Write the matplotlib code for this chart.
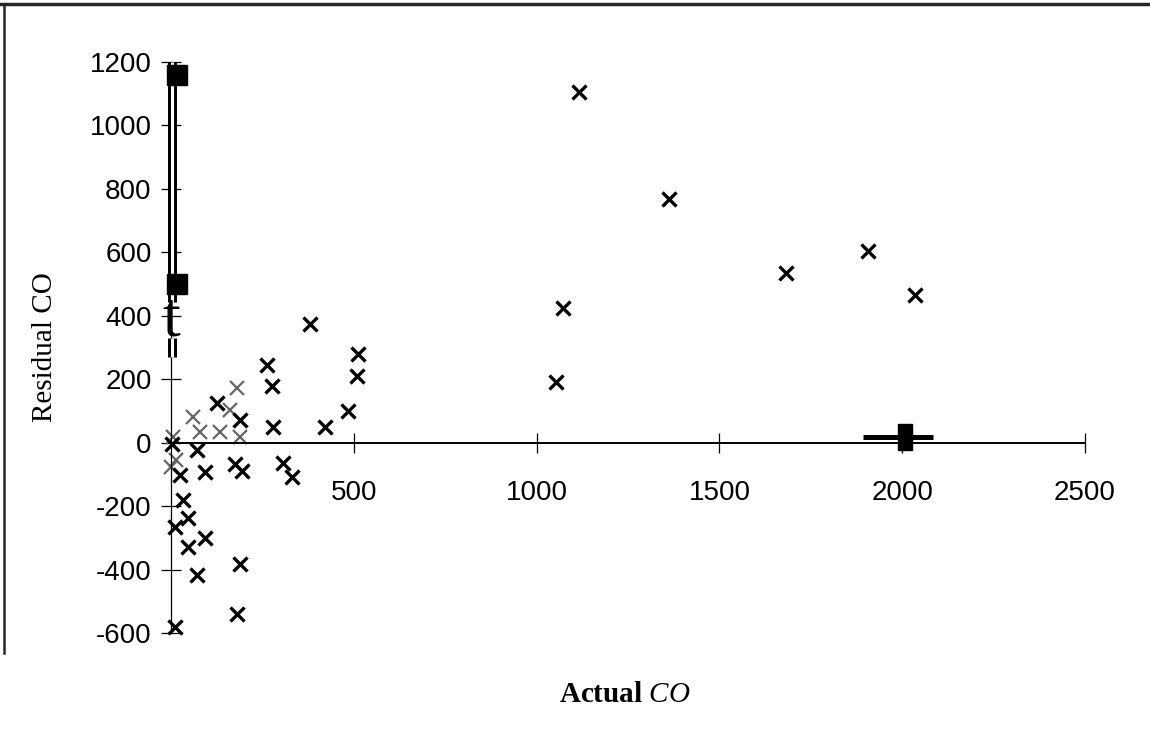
import matplotlib
matplotlib.use("Agg")
import matplotlib.pyplot as plt
from matplotlib.lines import Line2D
from matplotlib.patches import Rectangle

plt.rcParams['font.family'] = ['Liberation Sans', 'DejaVu Sans']
plt.rcParams['axes.unicode_minus'] = False
plt.rcParams['mathtext.fontset'] = 'custom'
plt.rcParams['mathtext.rm'] = 'Liberation Serif'
plt.rcParams['mathtext.it'] = 'Liberation Serif:italic'

# residuals of the CO model against the measured value
actual = [1117, 1362, 1907, 1682, 2035, 1073, 1052,
          380, 511, 510, 485, 421,
          262, 275, 280, 125, 189, 2, 70,
          175, 193, 307, 330, 25, 93,
          34, 47, 11, 93, 47, 71, 189, 181, 11]
residual = [1106, 767, 605, 535, 465, 423, 192,
            374, 281, 210, 100, 50,
            244, 178, 50, 125, 71, -3, -24,
            -66, -89, -64, -108, -102, -92,
            -181, -239, -267, -302, -328, -418, -381, -541, -581]

# weaker points in the crowded corner
faint_actual = [180, 161, 61, 79, 134, 189, 6, 15, 0]
faint_residual = [171, 102, 81, 34, 34, 18, 18, -55, -76]

# vertical range at the low end (broken where the label sits)
range_x = 4
range_segments = [(1200, 442), (329, 270)]
range_ends_x = [16, 16]
range_ends_y = [1159, 500]

# horizontal range near 2000
hbar_x = [1893, 2084]
hbar_y = [17, 17]
hbar_mid = (2008, 17)

fig = plt.figure(figsize=(11.5, 7.34), dpi=100)
ax = fig.add_axes([0.1487, 0.1376, 0.7948, 0.7779])

ax.set_xlim(0, 2500)
ax.set_ylim(-600, 1200)

for side in ['top', 'right']:
    ax.spines[side].set_visible(False)
ax.spines['left'].set_position(('data', 0))
ax.spines['bottom'].set_position(('data', 0))
ax.spines['left'].set_linewidth(0.9)
ax.spines['bottom'].set_linewidth(1.4)

ax.set_xticks([500, 1000, 1500, 2000, 2500])
ax.set_yticks(range(-600, 1201, 200))
ax.tick_params(direction='inout', length=14, width=0.9, labelsize=20)
ax.tick_params(axis='x', pad=20)
ax.tick_params(axis='y', pad=7)

# double line with square ends
for y0, y1 in range_segments:
    ax.plot([range_x, range_x], [y0, y1], color='black', lw=6.5,
            solid_capstyle='butt', clip_on=False, zorder=3)
    ax.plot([range_x, range_x], [y0, y1], color='white', lw=2.2,
            solid_capstyle='butt', clip_on=False, zorder=3)
ax.plot(range_ends_x, range_ends_y, 's', color='black', ms=15,
        clip_on=False, zorder=4)
ax.text(2, 386, 't', family='Liberation Serif', fontsize=46,
        ha='center', va='center', zorder=6)

ax.plot(hbar_x, hbar_y, color='black', lw=3.6, solid_capstyle='butt', zorder=3)
ax.add_patch(Rectangle((hbar_mid[0] - 19, hbar_mid[1] - 41), 38, 82,
                       color='black', zorder=4))

ax.plot(faint_actual, faint_residual, 'x', color='0.4', ms=10, mew=1.6,
        clip_on=False, zorder=2)
ax.plot(actual, residual, 'x', color='black', ms=10, mew=2.4,
        clip_on=False, zorder=5)

ax.set_ylabel('Residual CO', family='Liberation Serif', fontsize=21,
              va='center')
ax.yaxis.set_label_coords(-0.138, 0.5)
ax.set_xlabel(r'Actual $CO$', family='Liberation Serif', fontsize=21,
              fontweight='bold', va='center')
ax.xaxis.set_label_coords(0.497, -0.107)

# frame lines along the top and left edges
fig.add_artist(Line2D([0.0, 1.0], [0.995, 0.995], color='0.15', lw=2.5))
fig.add_artist(Line2D([0.0035, 0.0035], [0.995, 1 - 653 / 734],
                      color='0.15', lw=1.8))

fig.savefig('out.png', dpi=100)
